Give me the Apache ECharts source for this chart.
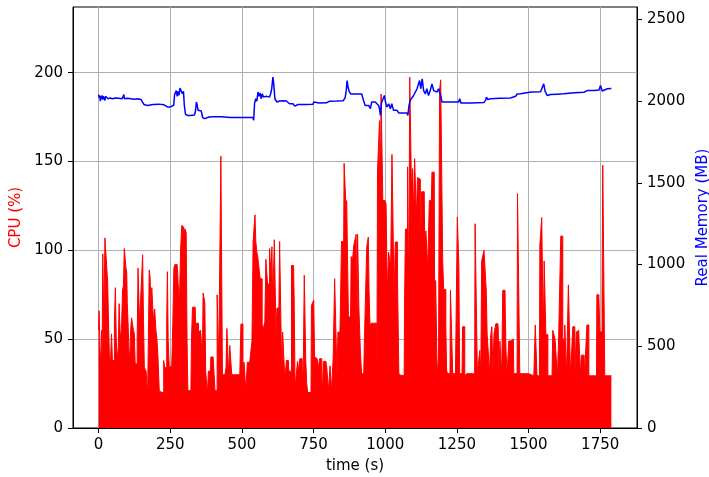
<!DOCTYPE html>
<html>
<head>
<meta charset="utf-8">
<script src="https://cdn.jsdelivr.net/npm/echarts@6/dist/echarts.min.js"></script>
<style>
  html, body { margin: 0; padding: 0; background: #fff; }
  #chart { width: 709px; height: 477px; }
</style>
</head>
<body>
<div id="chart"></div>
<script>
// CPU load samples (time in s, load in %)
const cpuTime = [
  0, 3, 6, 9, 11, 13, 16, 20, 24, 27,
  30, 33, 36, 40, 44, 46, 50, 53, 57, 60,
  63, 67, 70, 73, 76, 79, 82, 85, 88, 91,
  94, 97, 99, 101, 104, 107, 110, 113, 117, 120,
  123, 126, 129, 133, 136, 139, 141, 144, 148, 152,
  155, 158, 161, 164, 167, 170, 172, 175, 178, 181,
  184, 187, 190, 193, 198, 202, 205, 209, 214, 218,
  222, 225, 229, 232, 236, 239, 241, 244, 249, 253,
  257, 261, 264, 268, 272, 276, 280, 284, 288, 292,
  296, 299, 304, 307, 310, 313, 318, 322, 326, 329,
  334, 337, 340, 343, 347, 350, 354, 358, 361, 363,
  366, 369, 372, 375, 378, 381, 385, 390, 393, 397,
  402, 404, 408, 412, 415, 418, 420, 425, 428, 431,
  433, 438, 443, 446, 449, 452, 455, 460, 463, 466,
  470, 480, 490, 495, 498, 502, 505, 510, 517, 521,
  527, 533, 537, 541, 544, 547, 550, 554, 557, 562,
  565, 569, 572, 578, 582, 585, 588, 591, 595, 598,
  600, 603, 606, 609, 612, 614, 618, 620, 624, 629,
  634, 638, 640, 644, 647, 650, 653, 657, 662, 665,
  669, 677, 680, 684, 687, 692, 696, 700, 704, 710,
  713, 716, 719, 721, 724, 728, 731, 741, 744, 749,
  752, 755, 760, 765, 769, 773, 777, 780, 781, 787,
  793, 799, 805, 810, 815, 822, 825, 830, 833, 837,
  842, 845, 850, 855, 858, 862, 864, 867, 870, 873,
  879, 883, 888, 893, 897, 900, 902, 905, 907, 909,
  912, 915, 920, 925, 930, 934, 937, 940, 942, 945,
  949, 953, 960, 970, 972, 974, 979, 981, 984, 987,
  990, 993, 997, 1001, 1005, 1009, 1014, 1017, 1021, 1026,
  1029, 1033, 1037, 1041, 1045, 1050, 1055, 1066, 1069, 1072,
  1076, 1080, 1084, 1087, 1090, 1093, 1098, 1101, 1104, 1107,
  1111, 1114, 1117, 1121, 1124, 1130, 1136, 1139, 1145, 1151,
  1157, 1161, 1165, 1171, 1174, 1178, 1184, 1188, 1191, 1196,
  1199, 1202, 1206, 1210, 1213, 1215, 1220, 1226, 1229, 1234,
  1237, 1245, 1250, 1253, 1256, 1258, 1261, 1268, 1272, 1276,
  1279, 1285, 1295, 1305, 1312, 1315, 1320, 1323, 1328, 1332,
  1335, 1338, 1343, 1346, 1351, 1354, 1357, 1362, 1366, 1370,
  1374, 1378, 1381, 1384, 1388, 1393, 1395, 1399, 1401, 1405,
  1408, 1412, 1418, 1420, 1423, 1428, 1434, 1438, 1442, 1447,
  1450, 1460, 1463, 1468, 1471, 1480, 1490, 1500, 1510, 1515,
  1522, 1525, 1528, 1531, 1538, 1541, 1545, 1547, 1550, 1553,
  1556, 1559, 1562, 1566, 1569, 1575, 1582, 1587, 1591, 1594,
  1599, 1602, 1607, 1611, 1614, 1618, 1621, 1625, 1628, 1631,
  1634, 1638, 1640, 1645, 1648, 1653, 1656, 1660, 1663, 1670,
  1675, 1679, 1682, 1686, 1694, 1697, 1702, 1705, 1709, 1712,
  1720, 1730, 1737, 1740, 1744, 1747, 1751, 1755, 1758, 1760,
  1765, 1767, 1775, 1782, 1789
];
const cpuLoad = [
  55, 66, 45, 37, 55, 37, 98, 60, 107, 107,
  90, 82, 60, 37, 40, 53, 38, 38, 60, 79,
  50, 39, 45, 70, 55, 50, 60, 78, 80, 101,
  101, 90, 88, 70, 60, 45, 37, 55, 62, 62,
  55, 53, 36, 36, 50, 90, 90, 60, 70, 85,
  97.5, 60, 34, 34, 32, 25, 20, 50, 89, 85,
  70, 79, 69, 60, 67, 55, 50, 40, 21, 20,
  21, 20, 38, 34, 34, 60, 88, 50, 34, 35,
  35, 60, 90, 92, 92, 92, 80, 71, 100, 114,
  113, 110, 112, 110, 49, 21, 21, 21, 50, 68,
  68, 68, 55, 59, 59, 54, 55, 55, 55, 37,
  76, 76, 71, 32, 32, 19, 32, 32, 40, 40,
  40, 30, 21, 21, 75, 75, 37, 37, 153, 153,
  30, 30, 30, 34, 56, 56, 30, 46.5, 46.5, 30,
  30, 30, 30, 30, 58.5, 58.5, 34, 37, 21, 37,
  37, 37, 49, 105, 105, 120, 105, 99, 96, 96,
  84, 84, 58, 56, 60, 95, 95, 81, 81, 101,
  101, 85, 102, 71, 71, 106, 106, 52, 67.5, 67.5,
  105, 105, 30, 54, 54, 32, 30, 38, 38, 32,
  32, 91.5, 91.5, 75, 22.5, 30, 37.5, 32, 39, 39,
  21, 40, 86, 86, 39, 25, 20, 20, 69, 69,
  72, 40, 39, 39, 34, 39, 39, 30, 19, 37.5,
  37.5, 34, 21, 35, 21, 40, 84, 84, 30, 54,
  54, 67.5, 105, 105, 149, 149, 124, 128, 128, 63,
  62, 96.5, 94, 103, 103, 109, 45.6, 109, 109, 68,
  67, 42, 30.6, 30.6, 51, 51, 102, 102, 107.5, 77.5,
  57, 59, 59, 59, 30.6, 144, 144, 173, 128, 188,
  188, 128, 128, 127, 126, 75.6, 99, 99, 90.6, 154,
  154, 73.7, 104.7, 104.7, 82, 30.6, 29.6, 29.6, 72, 112,
  112, 147, 73.7, 197.5, 197.5, 135.6, 146, 118.7, 151.6, 151.6,
  118.7, 141, 140, 140, 96, 133, 133, 105.6, 111, 89.7,
  128, 128, 144, 144, 57, 83, 30.6, 40, 190, 196,
  196, 94, 78, 78, 57, 32.5, 30.6, 30.6, 77.5, 77.5,
  30.6, 30.6, 30.6, 118.7, 118.7, 90.6, 30.6, 30.6, 57, 57,
  29.6, 30.6, 30.6, 30.6, 30.6, 115, 115, 30.6, 30.6, 43.7,
  30.6, 94, 94, 100, 100, 77.5, 53, 53, 30.6, 52,
  57, 30.6, 53, 53, 58.7, 58.7, 57, 30.6, 49, 49,
  30.6, 77.5, 77.5, 64, 42.6, 30.6, 49, 49, 50, 50,
  30.6, 30.6, 132, 132, 30.6, 30.6, 30.6, 30.6, 30, 29.4,
  29.4, 58, 58, 29.4, 29.4, 103, 103, 118.5, 118.5, 52.5,
  94, 94, 52.5, 52.5, 29.4, 29.4, 29.4, 55, 55, 50,
  50, 29.4, 47, 47, 108, 108, 50, 50, 58, 58,
  29.4, 29.4, 80.6, 80.6, 29.4, 29.4, 57, 57, 29.4, 54,
  55, 55, 29.4, 41, 41, 29.4, 29.4, 58, 58, 29.4,
  29.4, 29.4, 29.4, 75, 75, 73, 54, 54, 73, 148,
  148, 29.4, 29.4, 29.4, 29.4
];

// Resident memory samples (time in s, memory in MB)
const memTime = [
  0, 2, 4, 6, 8, 10, 12, 14, 16, 18,
  20, 22, 24, 27, 30, 33, 36, 40, 44, 48,
  52, 58, 64, 70, 76, 82, 88, 90, 95, 100,
  106, 112, 118, 124, 130, 136, 142, 148, 154, 158,
  162, 170, 176, 190, 210, 228, 240, 248, 254, 262,
  265, 268, 271, 274, 277, 280, 284, 288, 292, 296,
  299, 303, 310, 320, 334, 338, 341, 344, 347, 352,
  358, 363, 370, 376, 385, 400, 420, 424, 428, 433,
  460, 490, 520, 538, 541, 544, 548, 552, 556, 560,
  564, 567, 571, 575, 580, 585, 590, 596, 600, 604,
  608, 611, 615, 622, 631, 645, 655, 666, 678, 684,
  690, 696, 720, 748, 751, 755, 770, 795, 806, 830,
  853, 860, 864, 867, 870, 874, 880, 900, 918, 924,
  930, 942, 948, 951, 953, 965, 971, 977, 980, 983,
  987, 993, 997, 1001, 1005, 1012, 1018, 1023, 1029, 1041,
  1047, 1060, 1076, 1079, 1083, 1087, 1093, 1099, 1105, 1111,
  1116, 1120, 1124, 1129, 1134, 1140, 1145, 1151, 1157, 1163,
  1169, 1175, 1181, 1186, 1192, 1198, 1210, 1230, 1256, 1260,
  1264, 1300, 1344, 1350, 1353, 1358, 1367, 1400, 1437, 1443,
  1455, 1460, 1472, 1478, 1510, 1542, 1548, 1553, 1558, 1565,
  1577, 1600, 1623, 1629, 1660, 1693, 1705, 1730, 1746, 1751,
  1757, 1763, 1775, 1789
];
const memUsage = [
  2040, 2020, 2035, 2000, 2030, 2015, 2035, 2010, 2030, 2020,
  2040, 2005, 2030, 2020, 2035, 2015, 2025, 2020, 2030, 2015,
  2025, 2020, 2025, 2018, 2025, 2015, 2040, 2015, 2022, 2018,
  2025, 2015, 2022, 2012, 2020, 2015, 2018, 2010, 2005, 1980,
  1975, 1974, 1980, 1980, 1982, 1978, 1965, 1964, 1968, 1975,
  2040, 2050, 2065, 2030, 2060, 2035, 2080, 2085, 2045, 2060,
  1974, 1920, 1913, 1913, 1915, 1940, 1995, 1975, 1944, 1950,
  1940, 1900, 1893, 1895, 1903, 1905, 1905, 1910, 1905, 1899,
  1900, 1900, 1900, 1900, 1883, 1985, 2015, 2000, 2056, 2030,
  2050, 2015, 2045, 2025, 2020, 2030, 2020, 2025, 2044, 2076,
  2147, 2106, 2015, 1995, 2001, 2003, 2001, 1984, 1984, 1970,
  1970, 1980, 1980, 1982, 1995, 1990, 1989, 1990, 2000, 2001,
  2003, 2020, 2065, 2126, 2090, 2060, 2044, 2044, 2044, 2005,
  1974, 1974, 1954, 1954, 1995, 1995, 1995, 1974, 1954, 1913,
  1990, 2000, 2035, 1995, 1964, 1984, 1954, 1984, 1944, 1944,
  1928, 1928, 1928, 1913, 1974, 2005, 2015, 2035, 2056, 2076,
  2106, 2126, 2076, 2136, 2065, 2044, 2076, 2035, 2065, 2106,
  2065, 2076, 2056, 2076, 2044, 1995, 1995, 1995, 1995, 2015,
  1989, 1989, 1992, 2005, 2025, 2010, 2015, 2018, 2020, 2025,
  2030, 2044, 2046, 2056, 2056, 2058, 2070, 2106, 2060, 2035,
  2041, 2043, 2045, 2050, 2052, 2055, 2065, 2066, 2068, 2096,
  2062, 2065, 2076, 2078
];

// Tick positions
const timeTicks = [0, 250, 500, 750, 1000, 1250, 1500, 1750];
const cpuTicks = [0, 50, 100, 150, 200];
const memTicks = [0, 500, 1000, 1500, 2000, 2500];

const pairs = (xs, ys) => xs.map((x, i) => [x, ys[i]]);
const cpuData = pairs(cpuTime, cpuLoad);
const memData = pairs(memTime, memUsage);

// Axis extents: 5% padding on time, 20% head-room on both value axes
const tMin = 0, tMax = cpuTime[cpuTime.length - 1];
const tPad = (tMax - tMin) * 0.05;
const cpuTop = Math.max(...cpuLoad) * 1.2;
const memTop = Math.max(...memUsage) * 1.2;

const FONT = 'DejaVu Sans';
const plain = v => String(v);
const labelStyle = { color: '#000', fontFamily: FONT, fontSize: 15 };
const gridLine = { show: true, lineStyle: { color: '#b0b0b0', width: 1, type: 'solid' } };
const tickStyle = { show: true, inside: false, length: 5, lineStyle: { color: '#000', width: 1 } };
const axisLine = { show: true, onZero: false, lineStyle: { color: '#000', width: 1 } };

const chart = echarts.init(document.getElementById('chart'), null, { renderer: 'canvas' });
chart.setOption({
  animation: false,
  backgroundColor: '#fff',
  grid: {
    left: 73, right: 72, top: 7, bottom: 49,
    outerBoundsMode: 'none',
    containLabel: false,
    show: true, borderColor: '#000', borderWidth: 1, backgroundColor: 'transparent'
  },
  xAxis: {
    type: 'value',
    min: tMin - tPad,
    max: tMax + tPad,
    name: 'time (s)',
    nameLocation: 'middle',
    nameGap: 31,
    nameTextStyle: labelStyle,
    axisLine: axisLine,
    axisTick: Object.assign({ customValues: timeTicks }, tickStyle),
    axisLabel: Object.assign({ customValues: timeTicks, margin: 10, formatter: plain }, labelStyle),
    splitLine: gridLine
  },
  yAxis: [
    {
      type: 'value',
      position: 'left',
      min: 0,
      max: cpuTop,
      name: 'CPU (%)',
      nameLocation: 'middle',
      nameGap: 48,
      nameTextStyle: Object.assign({}, labelStyle, { color: '#ff0000' }),
      axisLine: axisLine,
      axisTick: Object.assign({ customValues: cpuTicks }, tickStyle),
      axisLabel: Object.assign({ customValues: cpuTicks, margin: 10, formatter: plain }, labelStyle),
      splitLine: gridLine
    },
    {
      type: 'value',
      position: 'right',
      min: 0,
      max: memTop,
      name: 'Real Memory (MB)',
      nameLocation: 'middle',
      nameGap: 57,
      nameTextStyle: Object.assign({}, labelStyle, { color: '#0000ff' }),
      axisLine: axisLine,
      axisTick: Object.assign({ customValues: memTicks }, tickStyle),
      axisLabel: Object.assign({ customValues: memTicks, margin: 10, formatter: plain }, labelStyle),
      splitLine: { show: false }
    }
  ],
  series: [
    {
      name: 'CPU',
      type: 'line',
      yAxisIndex: 0,
      data: cpuData,
      step: 'middle',
      showSymbol: false,
      symbol: 'none',
      lineStyle: { color: '#ff0000', width: 1 },
      areaStyle: { color: '#ff0000', opacity: 1 },
      z: 2
    },
    {
      name: 'Memory',
      type: 'line',
      yAxisIndex: 1,
      data: memData,
      showSymbol: false,
      symbol: 'none',
      lineStyle: { color: '#0000ff', width: 1.5 },
      z: 3
    }
  ]
});
</script>
</body>
</html>
